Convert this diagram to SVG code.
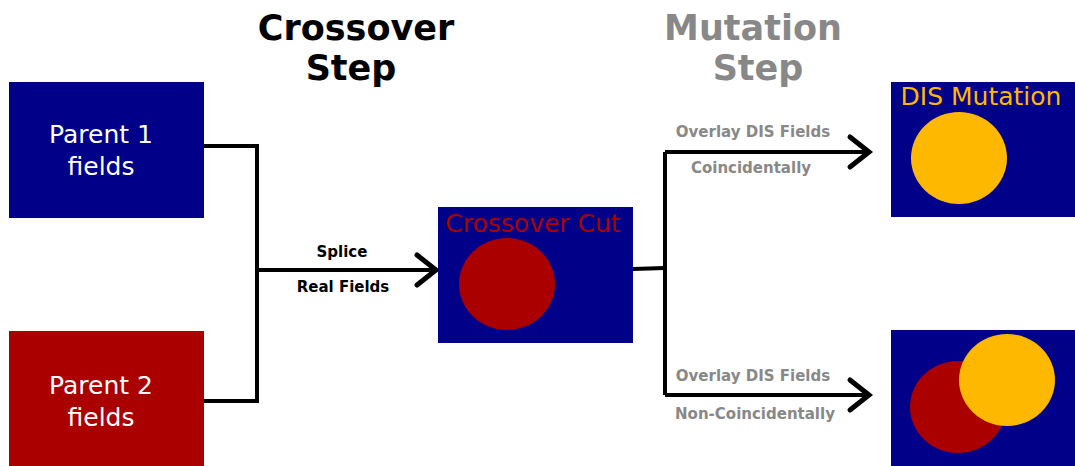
<svg xmlns="http://www.w3.org/2000/svg" width="1075" height="466" viewBox="0 0 1075 466">
  <style>
    .box-blue { fill: #000088; }
    .box-red { fill: #aa0000; }
    .disc-red { fill: #aa0000; }
    .disc-gold { fill: #ffb800; }
    .title { font-family: "DejaVu Sans", sans-serif; font-weight: bold; font-size: 35px; text-anchor: middle; }
    .node-label { font-family: "DejaVu Sans", sans-serif; font-size: 25px; fill: #ffffff; text-anchor: middle; }
    .box-caption { font-family: "DejaVu Sans", sans-serif; font-size: 25px; text-anchor: middle; }
    .edge-label { font-family: "DejaVu Sans", sans-serif; font-weight: bold; font-size: 15px; text-anchor: middle; }
    .wire { fill: none; stroke: #000000; stroke-width: 4; stroke-linejoin: miter; }
  </style>
  <defs>
    <marker id="chevron" markerUnits="userSpaceOnUse" markerWidth="30" markerHeight="40" viewBox="-24 -20 30 40" refX="0" refY="0" orient="auto">
      <path d="M -19,-15 L 0,0 L -19,15" fill="none" stroke="#000000" stroke-width="5" stroke-linecap="round"/>
    </marker>
  </defs>

  <rect width="1075" height="466" fill="#ffffff"/>

  <!-- step headings -->
  <g id="heading-crossover">
    <text class="title" x="356" y="40" fill="#000000">Crossover</text>
    <text class="title" x="351" y="80" fill="#000000">Step</text>
  </g>
  <g id="heading-mutation">
    <text class="title" x="753" y="40" fill="#888888">Mutation</text>
    <text class="title" x="758" y="80" fill="#888888">Step</text>
  </g>

  <!-- connectors -->
  <g id="connectors">
    <path class="wire" d="M 204,146 H 257 V 401 H 204"/>
    <path class="wire" d="M 257,270 H 436" marker-end="url(#chevron)"/>
    <path class="wire" d="M 633,269 L 665,268"/>
    <path class="wire" d="M 665,152 V 395"/>
    <path class="wire" d="M 665,152 H 869" marker-end="url(#chevron)"/>
    <path class="wire" d="M 665,395 H 869" marker-end="url(#chevron)"/>
    <text class="edge-label" x="342" y="257" fill="#000000">Splice</text>
    <text class="edge-label" x="343" y="292" fill="#000000">Real Fields</text>
    <text class="edge-label" x="753" y="137" fill="#888888">Overlay DIS Fields</text>
    <text class="edge-label" x="751" y="173" fill="#888888">Coincidentally</text>
    <text class="edge-label" x="753" y="381" fill="#888888">Overlay DIS Fields</text>
    <text class="edge-label" x="755" y="419" fill="#888888">Non-Coincidentally</text>
  </g>

  <!-- parent nodes -->
  <g id="parent-1">
    <rect class="box-blue" x="9" y="82" width="195" height="136"/>
    <text class="node-label" x="101" y="143">Parent 1</text>
    <text class="node-label" x="101" y="175">fields</text>
  </g>
  <g id="parent-2">
    <rect class="box-red" x="9" y="331" width="195" height="135"/>
    <text class="node-label" x="101" y="394">Parent 2</text>
    <text class="node-label" x="101" y="426">fields</text>
  </g>

  <!-- crossover result -->
  <g id="crossover-cut">
    <rect class="box-blue" x="438" y="207" width="195" height="136"/>
    <ellipse class="disc-red" cx="507" cy="284" rx="48" ry="46"/>
    <text class="box-caption" x="533" y="232" fill="#aa0000">Crossover Cut</text>
  </g>

  <!-- mutation results -->
  <g id="dis-mutation">
    <rect class="box-blue" x="891" y="82" width="184" height="135"/>
    <ellipse class="disc-gold" cx="959" cy="158" rx="48" ry="46"/>
    <text class="box-caption" x="981" y="105" fill="#ffb800">DIS Mutation</text>
  </g>
  <g id="dis-overlay">
    <rect class="box-blue" x="891" y="330" width="184" height="136"/>
    <ellipse class="disc-red" cx="958" cy="407" rx="48" ry="46"/>
    <ellipse class="disc-gold" cx="1007" cy="380" rx="48" ry="46"/>
  </g>
</svg>
